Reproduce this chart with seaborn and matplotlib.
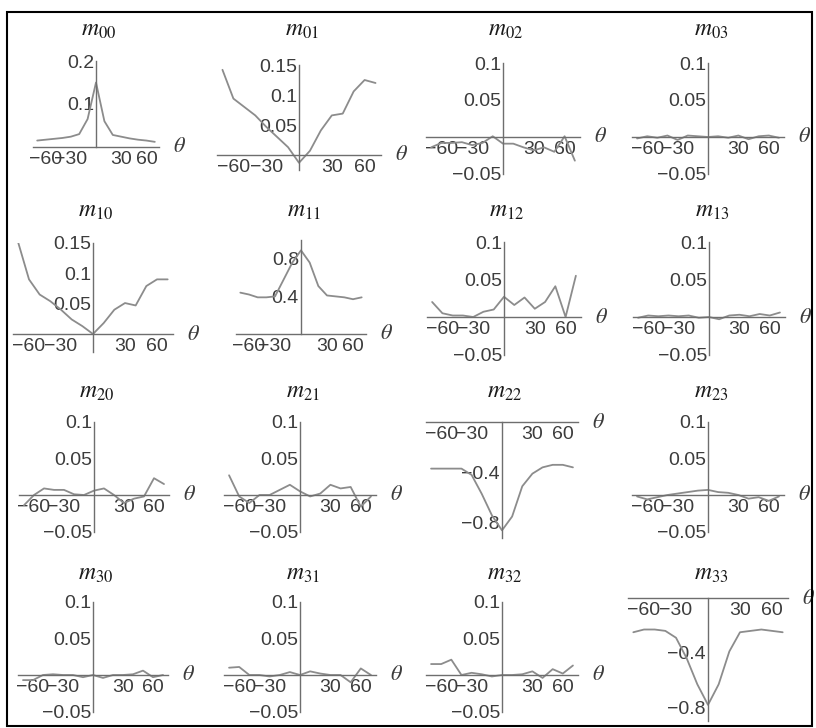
import numpy as np
import matplotlib
matplotlib.use("Agg")
import matplotlib.pyplot as plt
import seaborn as sns
from matplotlib.patches import Rectangle

# scattering angle (deg)
theta = [-70, -60, -50, -40, -30, -20, -10, 0, 10, 20, 30, 40, 50, 60, 70]

# Mueller matrix elements
m00 = [0.015, 0.017, 0.019, 0.021, 0.024, 0.030, 0.065, 0.150, 0.060, 0.028, 0.024, 0.020, 0.017, 0.015, 0.012]
m01 = [0.142, 0.094, 0.080, 0.066, 0.047, 0.030, 0.013, -0.013, 0.007, 0.041, 0.066, 0.069, 0.106, 0.125, 0.120]
m02 = [-0.014, -0.008, -0.008, -0.007, -0.011, -0.008, 0.001, -0.009, -0.009, -0.014, -0.018, -0.014, -0.020, 0.001, -0.032]
m03 = [-0.002, 0.001, -0.001, 0.002, -0.004, 0.002, 0.001, 0.0, 0.001, -0.001, 0.002, -0.003, 0.001, 0.002, -0.001]
m10 = [0.150, 0.090, 0.065, 0.054, 0.040, 0.024, 0.013, 0.0, 0.018, 0.040, 0.051, 0.047, 0.079, 0.090, 0.090]
m11 = [0.44, 0.42, 0.39, 0.39, 0.40, 0.58, 0.76, 0.89, 0.76, 0.51, 0.41, 0.40, 0.39, 0.37, 0.39]
m12 = [0.020, 0.005, 0.002, 0.002, 0.0, 0.007, 0.010, 0.027, 0.016, 0.026, 0.011, 0.020, 0.041, 0.0, 0.055]
m13 = [-0.001, 0.002, 0.001, 0.002, 0.001, 0.002, -0.001, 0.0, -0.003, 0.002, 0.003, 0.001, 0.004, 0.002, 0.006]
m20 = [-0.014, 0.0, 0.009, 0.007, 0.007, 0.001, 0.0, 0.006, 0.009, 0.0, -0.011, -0.005, -0.002, 0.023, 0.015]
m21 = [0.027, -0.002, -0.011, 0.0, 0.0, 0.007, 0.014, 0.005, -0.002, 0.002, 0.014, 0.009, 0.011, -0.016, -0.002]
m22 = [-0.37, -0.37, -0.37, -0.37, -0.42, -0.57, -0.74, -0.86, -0.75, -0.51, -0.41, -0.36, -0.34, -0.34, -0.36]
m23 = [-0.002, -0.006, -0.003, 0.0, 0.002, 0.004, 0.006, 0.007, 0.004, 0.003, 0.0, -0.005, -0.003, -0.008, -0.002]
m30 = [-0.007, -0.007, 0.0, 0.001, 0.0, 0.0, -0.003, 0.0, -0.004, 0.0, 0.0, 0.001, 0.006, -0.003, 0.0]
m31 = [0.010, 0.011, 0.0, 0.0, -0.002, 0.0, 0.004, 0.0, 0.005, 0.002, 0.0, 0.0, -0.010, 0.009, 0.0]
m32 = [0.015, 0.015, 0.021, 0.0, 0.003, 0.001, -0.002, 0.0, 0.0, 0.001, 0.005, -0.004, 0.008, 0.002, 0.013]
m33 = [-0.25, -0.23, -0.23, -0.24, -0.29, -0.44, -0.63, -0.78, -0.63, -0.39, -0.25, -0.24, -0.23, -0.24, -0.25]

W, H = 816, 728
LINE = "#8c8c8c"
AXC = "#6e6e6e"
TXT = "#3c3c3c"

sns.set_style("white")
plt.rcParams["font.family"] = ["Liberation Sans Narrow", "Liberation Sans", "DejaVu Sans"]
plt.rcParams["mathtext.fontset"] = "stix"

fig = plt.figure(figsize=(W / 100, H / 100), dpi=100)

small = ([0.1, 0.05, -0.05], 0.025)
# name, values, y-axis px, half width px, x-axis px, px per unit, ylim, (major yticks, minor step), title y
panels = [
    ("00", m00, 96, 63, 147, 430, (0, 0.2), ([0.1, 0.2], 0.02), 30),
    ("01", m01, 299, 82, 155, 600, (-0.025, 0.15), ([0.05, 0.1, 0.15], 0.025), 30),
    ("02", m02, 503, 77, 137, 740, (-0.05, 0.1), small, 30),
    ("03", m03, 708, 76, 137, 740, (-0.05, 0.1), small, 30),
    ("10", m10, 93, 80, 334, 607, (-0.03, 0.15), ([0.05, 0.1, 0.15], 0.025), 211),
    ("11", m11, 301, 65, 334, 94, (0, 1.0), ([0.4, 0.8], 0.1), 211),
    ("12", m12, 504, 77, 317, 750, (-0.05, 0.1), small, 211),
    ("13", m13, 709, 76, 317, 750, (-0.05, 0.1), small, 211),
    ("20", m20, 94, 75, 495, 730, (-0.05, 0.1), small, 392),
    ("21", m21, 300, 76, 495, 730, (-0.05, 0.1), small, 392),
    ("22", m22, 502, 76, 422, 126, (-0.92, 0), ([-0.4, -0.8], 0.1), 392),
    ("23", m23, 708, 76, 495, 730, (-0.05, 0.1), small, 392),
    ("30", m30, 93, 75, 675, 730, (-0.05, 0.1), small, 574),
    ("31", m31, 300, 76, 675, 730, (-0.05, 0.1), small, 574),
    ("32", m32, 502, 76, 675, 730, (-0.05, 0.1), small, 574),
    ("33", m33, 708, 80, 598, 137, (-0.9, 0), ([-0.4, -0.8], 0.1), 574),
]


def fmt(v):
    return f"{v:g}".replace("-", "\u2212")


for name, vals, x0, hw, y0, ky, (ylo, yhi), (majors, mstep), ty in panels:
    rect = [(x0 - hw) / W, 1 - (y0 - ky * ylo) / H, 2 * hw / W, ky * (yhi - ylo) / H]
    ax = fig.add_axes(rect)
    ax.patch.set_alpha(0)
    sns.lineplot(x=theta, y=vals, ax=ax, color=LINE, lw=1.3)
    ax.set_xlim(-75, 75)
    ax.set_ylim(ylo, yhi)
    ax.set_xlabel("")
    ax.set_ylabel("")
    for s in ["top", "right"]:
        ax.spines[s].set_visible(False)
    for s in ["left", "bottom"]:
        ax.spines[s].set_position(("data", 0))
        ax.spines[s].set_color(AXC)
        ax.spines[s].set_linewidth(1.0)

    ax.set_xticks([-60, -30, 30, 60], labels=[fmt(v) for v in [-60, -30, 30, 60]])
    ax.set_xticks([v for v in range(-70, 71, 10) if v not in (-60, -30, 0, 30, 60)], minor=True)
    ax.set_yticks(majors, labels=[fmt(v) for v in majors])
    mins = np.round(np.arange(np.ceil(ylo / mstep) * mstep, yhi + 1e-9, mstep), 4)
    mins = [v for v in mins if abs(v) > 1e-9 and all(abs(v - m) > 1e-9 for m in majors)]
    ax.set_yticks(mins, minor=True)
    ax.tick_params(which="both", direction="in", color=AXC, labelcolor=TXT, labelsize=14)
    ax.tick_params(axis="x", pad=3)
    ax.tick_params(axis="y", pad=1.5)
    ax.tick_params(which="major", length=5, width=1.0)
    ax.tick_params(which="minor", length=3, width=0.8)

    ax.annotate(r"$\theta$", xy=(1, 0), xycoords=("axes fraction", "data"),
                xytext=(10, 0), textcoords="offset points",
                ha="left", va="center", fontsize=16, color=TXT)
    fig.text((x0 + 3) / W, 1 - ty / H, f"$m_{{{name}}}$", ha="center", va="center",
             fontsize=17, color="#1a1a1a")

fig.add_artist(Rectangle((7 / W, 1 - 726 / H), 805 / W, 714 / H, transform=fig.transFigure,
                         fill=False, ec="black", lw=1.5))

fig.savefig("out.png", dpi=100)
